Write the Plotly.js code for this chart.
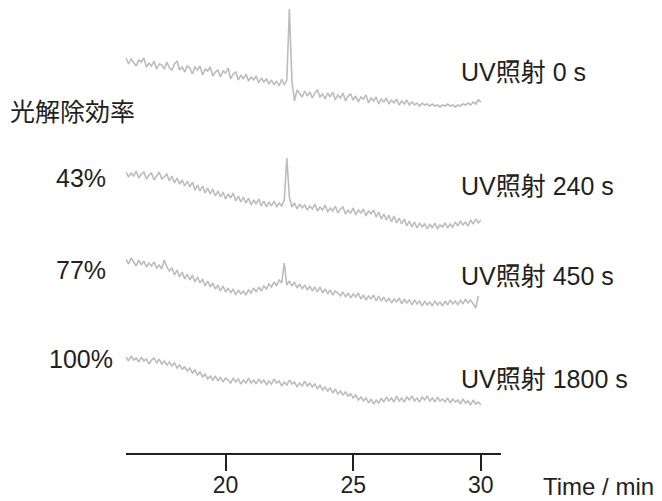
<!DOCTYPE html>
<html>
<head>
<meta charset="utf-8">
<script src="https://cdn.plot.ly/plotly-3.0.1.min.js"></script>
<style>html,body{margin:0;padding:0;background:#fff;}#chart{width:662px;height:501px;}</style>
</head>
<body>
<div id="chart"></div>
<script>
// Retention time (min)
const time = [
16.1,16.2,16.3,16.4,16.5,16.6,16.7,16.8,16.9,17.0,
17.1,17.2,17.3,17.4,17.5,17.6,17.7,17.8,17.9,18.0,
18.1,18.2,18.3,18.4,18.5,18.6,18.7,18.8,18.9,19.0,
19.1,19.2,19.3,19.4,19.5,19.6,19.7,19.8,19.9,20.0,
20.1,20.2,20.3,20.4,20.5,20.6,20.7,20.8,20.9,21.0,
21.1,21.2,21.3,21.4,21.5,21.6,21.7,21.8,21.9,22.0,
22.1,22.2,22.3,22.4,22.5,22.6,22.7,22.8,22.9,23.0,
23.1,23.2,23.3,23.4,23.5,23.6,23.7,23.8,23.9,24.0,
24.1,24.2,24.3,24.4,24.5,24.6,24.7,24.8,24.9,25.0,
25.1,25.2,25.3,25.4,25.5,25.6,25.7,25.8,25.9,26.0,
26.1,26.2,26.3,26.4,26.5,26.6,26.7,26.8,26.9,27.0,
27.1,27.2,27.3,27.4,27.5,27.6,27.7,27.8,27.9,28.0,
28.1,28.2,28.3,28.4,28.5,28.6,28.7,28.8,28.9,29.0,
29.1,29.2,29.3,29.4,29.5,29.6,29.7,29.8,29.9,30.0];

// Detector signal (arbitrary units, stacked)
const uv0 = [
395,389,394,390,387,393,391,395,386,390,
387,392,384,389,388,384,391,385,383,389,
392,383,386,381,387,385,379,386,383,387,
378,384,382,386,377,381,383,376,382,380,
385,374,379,381,373,378,374,379,372,376,
373,377,370,375,371,374,369,373,368,372,
367,374,368,373,444,372,352,363,359,356,
362,357,361,355,360,363,356,359,354,360,
356,361,353,358,355,360,352,357,359,353,
357,351,356,354,358,350,355,352,356,349,
354,351,355,349,353,350,354,348,352,349,
353,348,351,348,350,347,350,348,349,347,
349,347,348,346,348,347,349,347,348,346,
348,347,349,348,350,348,351,349,353,351];

const uv240 = [
281,276,280,277,282,275,279,281,274,278,
280,273,277,281,274,276,279,272,277,270,
275,269,273,267,272,266,271,263,268,262,
267,260,265,259,264,257,262,256,261,254,
259,255,260,252,257,251,256,250,255,248,
253,249,254,247,252,246,251,247,252,246,
250,247,253,295,256,246,250,244,249,245,
248,243,247,244,249,242,246,243,248,241,
245,242,247,240,244,246,239,243,240,245,
238,243,240,244,237,242,239,243,236,241,
234,239,233,238,231,237,230,235,229,234,
227,232,226,231,225,230,226,229,224,229,
225,230,224,228,226,230,225,229,226,231,
227,232,228,231,227,233,229,234,230,233];

const uv450 = [
194,189,195,191,187,193,188,192,186,190,
187,191,185,188,184,193,186,182,185,178,
183,176,181,174,179,173,178,171,176,170,
174,167,172,166,170,164,168,162,167,161,
165,160,164,158,163,159,162,158,163,160,
165,161,166,162,167,164,169,166,171,167,
173,170,190,168,172,167,171,165,169,164,
168,163,167,162,166,161,166,160,164,159,
163,158,162,160,157,161,156,160,155,159,
156,160,154,158,153,157,154,158,152,157,
152,156,151,155,150,154,151,155,149,154,
150,153,148,153,149,152,147,152,148,151,
147,152,148,151,147,152,148,153,149,152,
148,153,149,154,150,153,149,145,157,null];

const uv1800 = [
96,92,97,93,95,91,96,92,94,89,
93,95,90,94,89,92,88,91,87,90,
85,88,84,86,82,85,80,83,78,81,
76,79,74,77,73,77,72,76,71,75,
73,70,75,71,74,69,73,70,75,70,
73,69,74,70,73,68,72,69,74,70,
72,67,71,68,73,69,71,66,70,67,
72,67,70,66,69,64,68,63,66,62,
65,60,64,59,62,58,61,57,59,55,
58,53,56,52,55,50,54,49,53,50,
55,51,56,52,55,51,57,52,55,51,
56,53,57,52,55,51,56,53,57,52,
55,51,56,52,54,51,55,50,54,51,
53,49,54,50,52,48,53,49,51,48];

const seriesNames = ["UV照射 0 s", "UV照射 240 s", "UV照射 450 s", "UV照射 1800 s"];
const efficiencyTitle = "光解除効率";
const efficiencyLabels = ["43%", "77%", "100%"];
const tickValues = [20, 25, 30];
const xTitle = "Time / min";

const FONT = "Liberation Sans, Arial, Noto Sans CJK JP, sans-serif";
const TXT = "#231f20";
const LINE = "#bcbcbc";

const allSeries = [uv0, uv240, uv450, uv1800];
const traces = allSeries.map((ys, k) => ({
  x: time, y: ys, type: "scatter", mode: "lines", name: seriesNames[k],
  line: {color: LINE, width: 1.6}, connectgaps: false, hoverinfo: "skip"
}));

const labelY = [0.841, 0.589, 0.391, 0.163];
const annotations = seriesNames.map((s, k) => ({
  text: s, xref: "paper", yref: "paper", x: 0.889, y: labelY[k],
  xanchor: "left", yanchor: "middle", showarrow: false,
  font: {family: FONT, size: 25, color: TXT}
}));
annotations.push({
  text: efficiencyTitle, xref: "paper", yref: "paper", x: -0.316, y: 0.753,
  xanchor: "left", yanchor: "middle", showarrow: false,
  font: {family: FONT, size: 25, color: TXT}
});
const effY = [0.607, 0.404, 0.207];
efficiencyLabels.forEach((s, k) => annotations.push({
  text: s, xref: "paper", yref: "paper", x: -0.12, y: effY[k],
  xanchor: "center", yanchor: "middle", showarrow: false,
  font: {family: FONT, size: 25, color: TXT}
}));
annotations.push({
  text: xTitle, xref: "paper", yref: "paper", x: 1.106, y: -0.073,
  xanchor: "left", yanchor: "middle", showarrow: false,
  font: {family: FONT, size: 24, color: TXT}
});

const layout = {
  width: 662, height: 501,
  margin: {l: 126, r: 161, t: 0, b: 48, pad: 0},
  paper_bgcolor: "#ffffff", plot_bgcolor: "#ffffff",
  showlegend: false,
  xaxis: {
    range: [16.1, 30.79], showgrid: false, zeroline: false,
    showline: true, linecolor: TXT, linewidth: 2,
    ticks: "outside", ticklen: 16, tickwidth: 2, tickcolor: TXT,
    tickvals: tickValues, ticktext: tickValues.map(String),
    ticklabelstandoff: -6,
    tickfont: {family: FONT, size: 23, color: TXT}, fixedrange: true
  },
  yaxis: {range: [0, 453], visible: false, fixedrange: true},
  annotations: annotations
};

Plotly.newPlot("chart", traces, layout, {displayModeBar: false, staticPlot: true});
</script>
</body>
</html>
